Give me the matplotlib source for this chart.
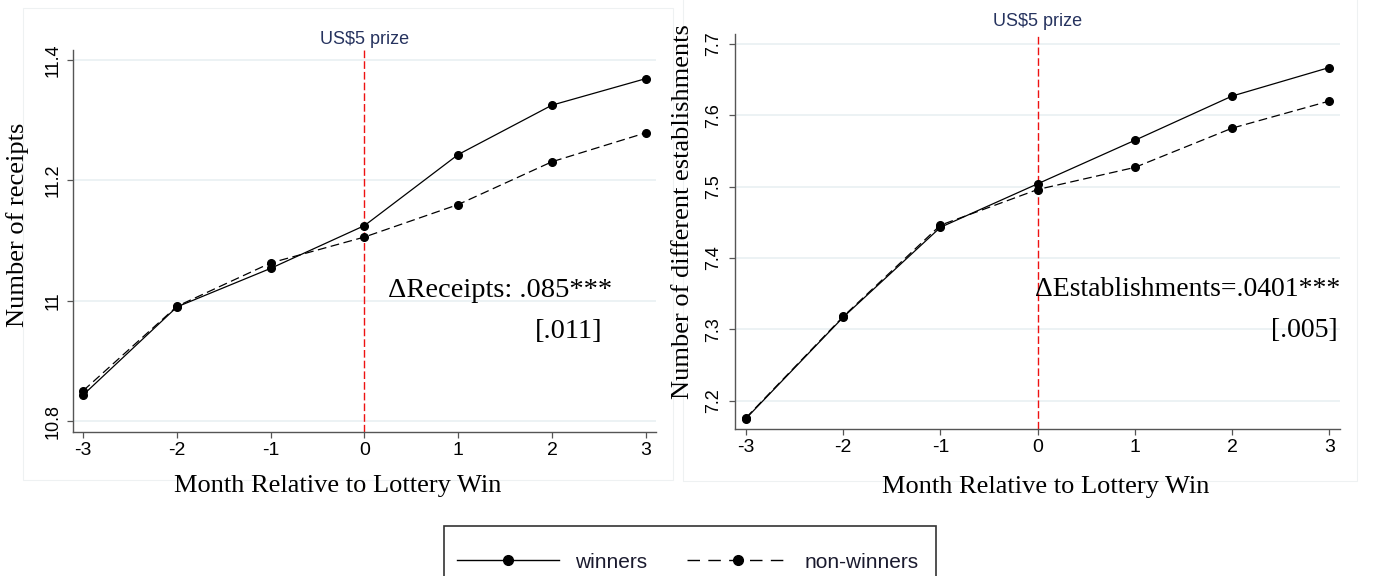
"""plot.py - receipts / establishments around lottery win"""
import matplotlib
matplotlib.use("Agg")
import matplotlib.pyplot as plt
import matplotlib.patches as mpatches
from matplotlib.lines import Line2D

W, H = 1375, 576
SERIF = "Liberation Serif"
SANS = "Liberation Sans"
GRID = "#eaf1f3"
SPINE = "#555555"
NAVY = "#26335f"

months = [-3, -2, -1, 0, 1, 2, 3]
rec_win = [10.844, 10.990, 11.054, 11.125, 11.243, 11.325, 11.369]
rec_non = [10.851, 10.991, 11.063, 11.106, 11.160, 11.231, 11.279]
est_win = [7.175, 7.317, 7.443, 7.504, 7.565, 7.627, 7.667]
est_non = [7.176, 7.318, 7.446, 7.496, 7.527, 7.582, 7.620]
rec_ticks = [10.8, 11.0, 11.2, 11.4]
rec_ticklabels = ["10.8", "11", "11.2", "11.4"]
est_ticks = [7.2, 7.3, 7.4, 7.5, 7.6, 7.7]
series_names = ["winners", "non-winners"]

plt.rcParams["font.family"] = SANS


def px_box(x0, y0, x1, y1):
    # pixel box (top-left origin) -> figure fraction [l, b, w, h]
    return [x0 / W, 1 - y1 / H, (x1 - x0) / W, (y1 - y0) / H]


def px_rect(x0, y0, x1, y1, **kw):
    l, b, w, h = px_box(x0, y0, x1, y1)
    return mpatches.Rectangle((l, b), w, h, transform=fig.transFigure,
                              fill=False, **kw)


fig = plt.figure(figsize=(W / 100, H / 100), dpi=100)

# faint graph-region borders
for box in [(23, 8, 673, 480), (683, -2, 1357, 481)]:
    fig.patches.append(px_rect(*box, edgecolor="#eef1f2", linewidth=0.8,
                               zorder=0))

ax1 = fig.add_axes(px_box(72.7, 50, 656, 432.3))
ax2 = fig.add_axes(px_box(735, 34, 1340, 429))


def style(ax, ticks, labels, ylim, label_dy):
    for s in ["top", "right"]:
        ax.spines[s].set_visible(False)
    for s in ["left", "bottom"]:
        ax.spines[s].set_color(SPINE)
        ax.spines[s].set_linewidth(1.0)
    ax.set_xlim(-3.113, 3.11)
    ax.set_ylim(*ylim)
    ax.set_xticks(months)
    ax.set_xticklabels([str(m) for m in months], fontsize=14)
    ax.set_yticks(ticks)
    ax.set_yticklabels(labels, fontsize=13, rotation=90, va="center")
    ax.tick_params(axis="both", direction="out", length=4.3, width=0.9,
                   color=SPINE)
    ax.tick_params(axis="x", pad=3)
    ax.tick_params(axis="y", pad=label_dy)
    ax.grid(axis="y", color=GRID, linewidth=1.3)
    ax.set_axisbelow(True)


style(ax1, rec_ticks, rec_ticklabels, (10.7817, 11.4166), 4)
style(ax2, est_ticks, [f"{t:.1f}" for t in est_ticks], (7.1603, 7.714), 5)

dash = (0, (7, 3.6))
for ax, win, non in [(ax1, rec_win, rec_non), (ax2, est_win, est_non)]:
    # prize line at month 0
    ax.axvline(0, color="#ee1111", linewidth=1.0, dashes=(5.5, 2.2), zorder=1)
    ax.plot(months, win, color="black", linewidth=0.9, marker="o",
            markersize=5.5, label=series_names[0], zorder=3)
    ax.plot(months, non, color="black", linewidth=0.9, linestyle=dash,
            marker="o", markersize=5.5, label=series_names[1], zorder=3)

ax1.annotate("US$5 prize", xy=(0, 1), xycoords=("data", "axes fraction"),
             xytext=(0, 4), textcoords="offset points", ha="center",
             va="baseline", fontsize=13, color=NAVY)
ax2.annotate("US$5 prize", xy=(0, 1), xycoords=("data", "axes fraction"),
             xytext=(0, 5.4), textcoords="offset points", ha="center",
             va="baseline", fontsize=13, color=NAVY)

# effect annotations
ax1.text(0.25, 11.007, "\u0394Receipts: .085***", fontsize=20.5,
         family=SERIF, ha="left", va="baseline")
ax1.text(2.544, 10.938, "[.011]", fontsize=20.5, family=SERIF,
         ha="right", va="baseline")
ax2.text(-0.024, 7.3463, "\u0394Establishments=.0401***", fontsize=20,
         family=SERIF, ha="left", va="baseline")
ax2.text(3.083, 7.2888, "[.005]", fontsize=20, family=SERIF,
         ha="right", va="baseline")

# axis titles
fig.text(18 / W, 1 - 225 / H, "Number of receipts", rotation=90,
         ha="center", va="center", fontsize=19, family=SERIF)
fig.text(683 / W, 1 - 212 / H, "Number of different establishments",
         rotation=90, ha="center", va="center", fontsize=19, family=SERIF)
fig.text(338 / W, 1 - 492 / H, "Month Relative to Lottery Win",
         ha="center", va="baseline", fontsize=19, family=SERIF)
fig.text(1046 / W, 1 - 493 / H, "Month Relative to Lottery Win",
         ha="center", va="baseline", fontsize=19, family=SERIF)

# legend; its frame runs off the bottom edge, so draw it separately
fig.patches.append(px_rect(444, 526, 936, 610, edgecolor="#333333",
                           linewidth=1.2, zorder=1))
handles = [
    Line2D([], [], color="black", linewidth=1.0, marker="o", markersize=7),
    Line2D([], [], color="black", linewidth=1.0, linestyle=(0, (9, 6)),
           marker="o", markersize=7),
]
leg = fig.legend(handles, series_names, loc="center",
                 bbox_to_anchor=(688 / W, 1 - 562 / H), ncol=2,
                 fontsize=15, frameon=False, borderaxespad=0,
                 borderpad=0, handlelength=4.9, handletextpad=0.75,
                 columnspacing=1.95, numpoints=1)
for t in leg.get_texts():
    t.set_color("#1a1a2e")

fig.savefig("out.png", dpi=100)
print("saved out.png")
